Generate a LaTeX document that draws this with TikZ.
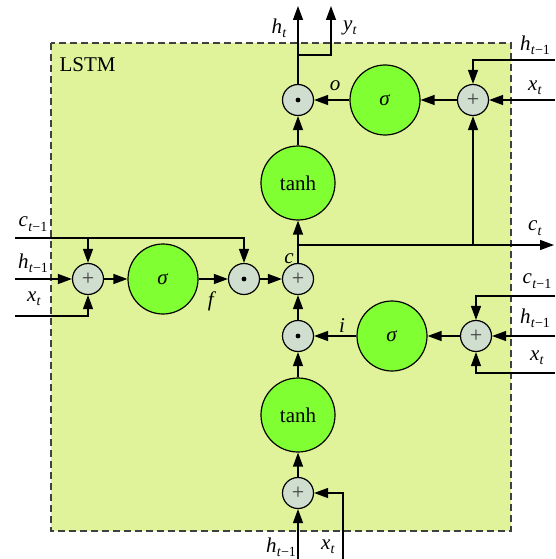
\documentclass[tikz,border=0pt]{standalone}
\usepackage{fontspec}
\setmainfont{Liberation Serif}
\usetikzlibrary{arrows.meta}
\definecolor{bgbox}{HTML}{E0F39A}
\definecolor{gbig}{HTML}{80FF33}
\definecolor{gsmall}{HTML}{D0DED0}
\definecolor{boxline}{HTML}{404040}
\newcommand\vr[2]{\textit{#1}\kern0.3pt\raisebox{-0.45ex}{\fontsize{14}{14}\selectfont\textit{t}#2}}
\begin{document}
\begin{tikzpicture}[x=1pt,y=-1pt, line width=1.3pt,
  >={Triangle[length=14pt,width=10pt]},
  big/.style={circle,draw,fill=gbig,inner sep=0pt,minimum size=70pt,line width=1.2pt,font=\fontsize{21}{24}\selectfont},
  bigtanh/.style={big,minimum size=74pt},
  small/.style={circle,draw,fill=gsmall,inner sep=0pt,minimum size=31pt,line width=1.2pt},
  plusnode/.style={small,text=black!75,font=\fontsize{22}{22}\selectfont},
  lbl/.style={font=\fontsize{21}{24}\selectfont,inner sep=0pt}]
\useasboundingbox (0,0) rectangle (555,559);
\path[draw=boxline,fill=bgbox,dash pattern=on 7pt off 4pt,line width=1.8pt] (51,43) rectangle (511,531);
\node[lbl,anchor=west] (lstm) at (59,65) {LSTM};

% nodes
\node[small] (dotO) at (298,100) {};
\node[big] (sigO) at (385,100) {\textit{σ}};
\node[plusnode] (plusO) at (473,100) {+};
\node[bigtanh] (tanhC) at (298,183) {tanh};
\node[plusnode] (plusF) at (88,279) {+};
\node[big] (sigF) at (163,279) {\textit{σ}};
\node[small] (dotF) at (244,279) {};
\node[plusnode] (plusC) at (298,279) {+};
\node[small] (dotI) at (298,336) {};
\node[big] (sigI) at (392,336) {\textit{σ}};
\node[plusnode] (plusI) at (476,336) {+};
\node[bigtanh] (tanhI) at (298,415) {tanh};
\node[plusnode] (plusB) at (298,493) {+};
\foreach \n in {dotO,dotF,dotI} \fill (\n.center) circle (2.4pt);

% coordinates for free ends
\coordinate (hout) at (298,6);
\coordinate (ybr) at (298,55);
\coordinate (yout) at (331,6);
\coordinate (hinO) at (555,60);
\coordinate (xinO) at (555,100);
\coordinate (cj) at (298,245);
\coordinate (cout) at (554,245);
\coordinate (cup) at (473,245);
\coordinate (cinF) at (15,238);
\coordinate (cF1) at (88,238);
\coordinate (hinF) at (15,279);
\coordinate (xinF) at (15,316);
\coordinate (cinI) at (555,296);
\coordinate (hinI) at (555,336);
\coordinate (xinI) at (555,373);
\coordinate (hinB) at (298,559);
\coordinate (xinB) at (343,559);

% connectors
\draw[->] (dotO) -- (hout);
\draw[->] (ybr) -| (yout);
\draw[->] (hinO) -| (plusO.north);
\draw[->] (xinO) -- (plusO.east);
\draw[->] (plusO) -- (sigO);
\draw[->] (sigO) -- (dotO);
\draw[->] (tanhC) -- (dotO);
\draw[->] (plusC) -- (tanhC);
\draw[->] (cj) -- (cout);
\draw[->] (cup) -- (plusO.south);
\draw[->] (cinF) -| (dotF.north);
\draw[->] (cF1) -- (plusF.north);
\draw[->] (hinF) -- (plusF.west);
\draw[->] (xinF) -| (plusF.south);
\draw[->] (plusF) -- (sigF);
\draw[->] (sigF) -- (dotF);
\draw[->] (dotF) -- (plusC);
\draw[->] (cinI) -| (plusI.north);
\draw[->] (hinI) -- (plusI.east);
\draw[->] (xinI) -| (plusI.south);
\draw[->] (plusI) -- (sigI);
\draw[->] (sigI) -- (dotI);
\draw[->] (dotI) -- (plusC);
\draw[->] (tanhI) -- (dotI);
\draw[->] (plusB) -- (tanhI);
\draw[->] (hinB) -- (plusB.south);
\draw[->] (xinB) |- (plusB.east);

% labels
\node[lbl] (lht) at (279,28) {\vr{h}{}};
\node[lbl] (lyt) at (350,28) {\vr{y}{}};
\node[lbl] (lo) at (335,86) {\textit{o}};
\node[lbl] (lhO) at (535,45) {\vr{h}{−1}};
\node[lbl] (lxO) at (535,88) {\vr{x}{}};
\node[lbl] (lct) at (535,228) {\vr{c}{}};
\node[lbl] (lc) at (289,259) {\textit{c}};
\node[lbl] (lf) at (212,301) {\textit{f}};
\node[lbl] (li) at (342,326) {\textit{i}};
\node[lbl] (lcF) at (33,224) {\vr{c}{−1}};
\node[lbl] (lhF) at (33,263) {\vr{h}{−1}};
\node[lbl] (lxF) at (34,299) {\vr{x}{}};
\node[lbl] (lcI) at (537,281) {\vr{c}{−1}};
\node[lbl] (lhI) at (535,318) {\vr{h}{−1}};
\node[lbl] (lxI) at (537,358) {\vr{x}{}};
\node[lbl] (lhB) at (281,547) {\vr{h}{−1}};
\node[lbl] (lxB) at (328,547) {\vr{x}{}};
\end{tikzpicture}
\end{document}
